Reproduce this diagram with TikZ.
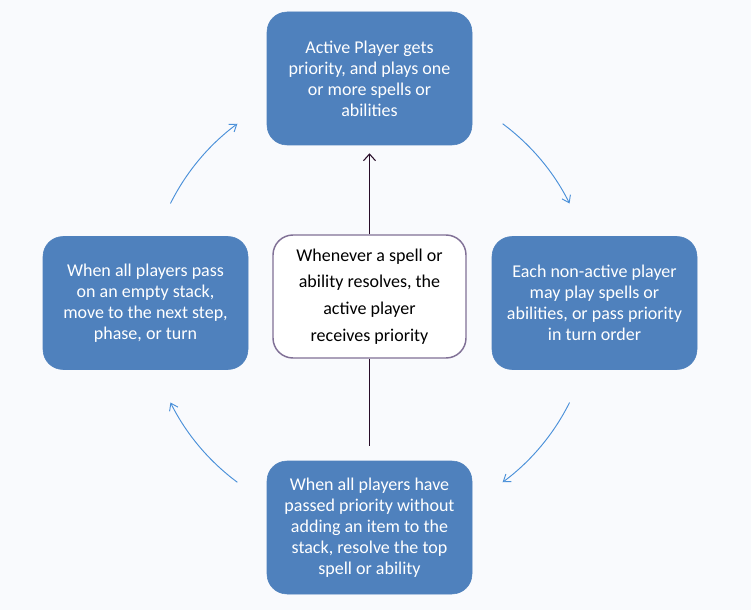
\documentclass[tikz,border=0pt]{standalone}
\usepackage{fontspec}
\setmainfont{Carlito}
\usetikzlibrary{arrows.meta}
\definecolor{boxblue}{RGB}{79,129,189}
\definecolor{bgwhite}{RGB}{249,250,253}
\definecolor{rulegray}{RGB}{128,112,150}
\definecolor{cycblue}{RGB}{74,144,217}
\definecolor{stemdark}{RGB}{40,12,40}
\tikzset{
  phase/.style={draw=boxblue, fill=boxblue, rounded corners=15pt, text=white,
    minimum width=153.75pt, minimum height=99.75pt, align=center,
    font=\fontsize{13.5}{15.75}\selectfont},
  rule/.style={draw=rulegray, line width=1.1pt, fill=white, rounded corners=15pt,
    minimum width=144.75pt, minimum height=92.25pt, align=center,
    font=\fontsize{13.5}{20}\selectfont},
  cyc/.style={draw=cycblue, line width=0.7pt, -{Straight Barb[length=5pt,width=7pt]}},
  stem/.style={draw=stemdark, line width=0.8pt}
}

\begin{document}
\begin{tikzpicture}[x=0.75pt,y=-0.75pt]
% page and background
\fill[bgwhite] (0,0) rectangle (751,610);
\useasboundingbox (0,0) rectangle (751,610);
% the four steps of the round
\node[phase] (top) at (369.5,78.5) {Active Player gets\\priority, and plays one\\or more spells or\\abilities};
\node[phase] (right) at (594.5,303) {Each non-active player\\may play spells or\\abilities, or pass priority\\in turn order};
\node[phase] (bottom) at (369.5,527.5) {When all players have\\passed priority without\\adding an item to the\\stack, resolve the top\\spell or ability};
\node[phase] (left) at (145.5,303) {When all players pass\\on an empty stack,\\move to the next step,\\phase, or turn};
% the rule in the middle
\node[rule] (mid) at (369.5,296.5) {Whenever a spell or\\ability resolves, the\\active player\\receives priority};
\draw[stem, -{Straight Barb[length=5pt,width=9pt]}, shorten >=6pt] (mid.north) -- (top.south);
\draw[stem, shorten >=11pt] (mid.south) -- (bottom.north);
% arcs of the cycle, all on one circle
\coordinate (hub) at (370,303);
\draw[cyc] ([shift={(153.5:167.25pt)}]hub) arc[start angle=153.5, end angle=126.5, radius=167.25pt];
\draw[cyc] ([shift={(53.5:167.25pt)}]hub) arc[start angle=53.5, end angle=26.5, radius=167.25pt];
\draw[cyc] ([shift={(-26.5:167.25pt)}]hub) arc[start angle=-26.5, end angle=-53.5, radius=167.25pt];
\draw[cyc] ([shift={(-126.5:167.25pt)}]hub) arc[start angle=-126.5, end angle=-153.5, radius=167.25pt];
\end{tikzpicture}
\end{document}
